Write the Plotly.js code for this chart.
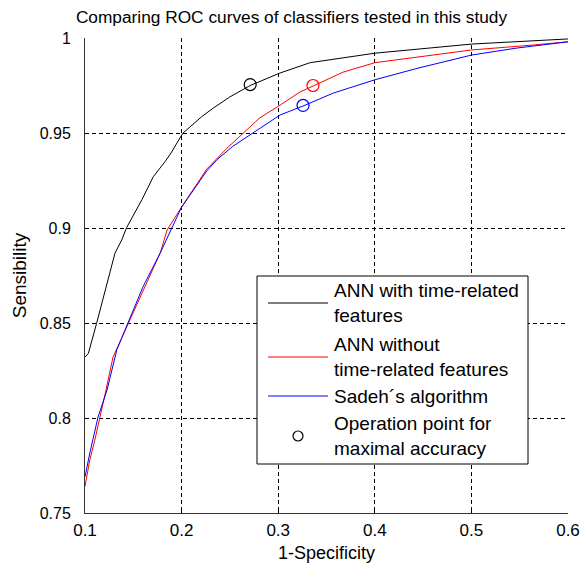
<!DOCTYPE html>
<html>
<head>
<meta charset="utf-8">
<script src="https://cdn.plot.ly/plotly-3.0.1.min.js"></script>
<style>html,body{margin:0;padding:0;background:#fff;}#chart{width:583px;height:567px;}</style>
</head>
<body>
<div id="chart"></div>
<script>
// 1-Specificity / Sensibility values
const annTimeX = [0.1, 0.1035, 0.112, 0.1207, 0.131, 0.138, 0.1431, 0.159, 0.1707, 0.1828, 0.1897, 0.2011, 0.2208, 0.2325, 0.25, 0.271, 0.302, 0.333, 0.4, 0.5, 0.58, 0.6];
const annTimeY = [0.832, 0.834, 0.8498, 0.8674, 0.8867, 0.8937, 0.9002, 0.915, 0.927, 0.9349, 0.94, 0.9498, 0.9586, 0.963, 0.969, 0.975, 0.9816, 0.987, 0.992, 0.9968, 0.999, 0.9995];

const annNoTimeX = [0.1, 0.105, 0.110, 0.1155, 0.121, 0.129, 0.1435, 0.16, 0.178, 0.185, 0.2, 0.226, 0.247, 0.264, 0.281, 0.302, 0.3226, 0.336, 0.367, 0.4, 0.4437, 0.5, 0.564, 0.6];
const annNoTimeY = [0.764, 0.778, 0.788, 0.8, 0.813, 0.832, 0.848, 0.867, 0.887, 0.899, 0.911, 0.931, 0.942, 0.950, 0.958, 0.9647, 0.9716, 0.9747, 0.982, 0.987, 0.990, 0.9937, 0.9963, 0.998];

const sadehX = [0.1, 0.105, 0.1135, 0.1228, 0.133, 0.1466, 0.16, 0.178, 0.2, 0.226, 0.2367, 0.253, 0.281, 0.302, 0.3257, 0.357, 0.4, 0.4437, 0.5, 0.547, 0.6];
const sadehY = [0.769, 0.7816, 0.8005, 0.8147, 0.836, 0.853, 0.869, 0.887, 0.911, 0.930, 0.936, 0.943, 0.9526, 0.9595, 0.9642, 0.971, 0.978, 0.984, 0.991, 0.9947, 0.998];

// operation points for maximal accuracy
const opX = [0.271, 0.336, 0.3257];
const opY = [0.9755, 0.975, 0.9645];
const opColors = ['black', 'red', 'blue'];

const seriesNames = ['ANN with time-related<br>features', 'ANN without<br>time-related features', 'Sadeh´s algorithm', 'Operation point for<br>maximal accuracy'];
const seriesColors = ['black', 'red', 'blue', 'black'];

const xTicks = [0.1, 0.2, 0.3, 0.4, 0.5, 0.6];
const yTicks = [0.75, 0.8, 0.85, 0.9, 0.95, 1];

const FONT = 'Liberation Sans, Arial, sans-serif';
const W = 583, H = 567, ML = 85, MR = 15, MT = 38, MB = 54;
const PW = W - ML - MR, PH = H - MT - MB;
const px = v => (v - ML) / PW;          // pixel x -> paper x
const py = v => (H - MB - v) / PH;       // pixel y -> paper y

const traces = [
  {x: annTimeX, y: annTimeY, mode: 'lines', name: seriesNames[0], line: {color: seriesColors[0], width: 1}},
  {x: annNoTimeX, y: annNoTimeY, mode: 'lines', name: seriesNames[1], line: {color: seriesColors[1], width: 1}},
  {x: sadehX, y: sadehY, mode: 'lines', name: seriesNames[2], line: {color: seriesColors[2], width: 1}},
  {x: opX, y: opY, mode: 'markers', name: seriesNames[3],
   marker: {symbol: 'circle-open', size: 12, color: opColors, line: {width: 1.2}}}
];

// hand-drawn legend (MATLAB style: long line samples)
const legBox = {x0: 257, x1: 528, y0: 276, y1: 464};
const legRows = [303, 357, 396, 436];
const sampleX0 = 268, sampleX1 = 328, textX = 332, markerX = 298;

const shapes = [
  {type: 'rect', xref: 'paper', yref: 'paper', x0: px(legBox.x0), x1: px(legBox.x1), y0: py(legBox.y1), y1: py(legBox.y0),
   line: {color: 'black', width: 1}, fillcolor: 'white', layer: 'above'}
];
const annotations = [];
seriesNames.forEach((name, i) => {
  if (i < 3) {
    shapes.push({type: 'line', xref: 'paper', yref: 'paper', x0: px(sampleX0), x1: px(sampleX1), y0: py(legRows[i]), y1: py(legRows[i]),
                 line: {color: seriesColors[i], width: 1}, layer: 'above'});
  } else {
    shapes.push({type: 'circle', xref: 'paper', yref: 'paper', xsizemode: 'pixel', ysizemode: 'pixel',
                 xanchor: px(markerX), yanchor: py(legRows[i]), x0: -5, x1: 5, y0: -5, y1: 5,
                 line: {color: seriesColors[i], width: 1.2}, layer: 'above'});
  }
  annotations.push({xref: 'paper', yref: 'paper', x: px(textX), y: py(legRows[i]), xanchor: 'left', yanchor: 'middle',
                    align: 'left', showarrow: false, text: name, font: {family: FONT, size: 19, color: 'black'}});
});

const layout = {
  width: W, height: H,
  margin: {l: ML, r: MR, t: MT, b: MB},
  paper_bgcolor: 'white', plot_bgcolor: 'white',
  font: {family: FONT, size: 16, color: 'black'},
  showlegend: false,
  title: {text: 'Comparing ROC curves of classifiers tested in this study', font: {family: FONT, size: 17.3, color: 'black'},
          x: 0.5, xref: 'container', xanchor: 'center', y: 0.97, yref: 'container', yanchor: 'middle'},
  xaxis: {range: [0.1, 0.6], tickvals: xTicks, showgrid: true, gridcolor: 'black', griddash: '4px,3px', gridwidth: 1,
          showline: true, linecolor: '#333', linewidth: 1, mirror: false, zeroline: false,
          ticks: 'inside', ticklen: 4, tickcolor: 'black', ticklabelstandoff: 2,
          tickfont: {family: FONT, size: 17, color: 'black'},
          title: {text: '1-Specificity', font: {family: FONT, size: 18, color: 'black'}, standoff: 6}},
  yaxis: {range: [0.75, 1], tickvals: yTicks, showgrid: true, gridcolor: 'black', griddash: '4px,3px', gridwidth: 1,
          showline: true, linecolor: '#333', linewidth: 1, mirror: false, zeroline: false,
          ticks: 'inside', ticklen: 4, tickcolor: 'black', ticklabelstandoff: 10,
          tickfont: {family: FONT, size: 16, color: 'black'},
          title: {text: 'Sensibility', font: {family: FONT, size: 19, color: 'black'}, standoff: 8}},
  shapes: shapes,
  annotations: annotations
};

Plotly.newPlot('chart', traces, layout, {displayModeBar: false, staticPlot: true});
</script>
</body>
</html>
